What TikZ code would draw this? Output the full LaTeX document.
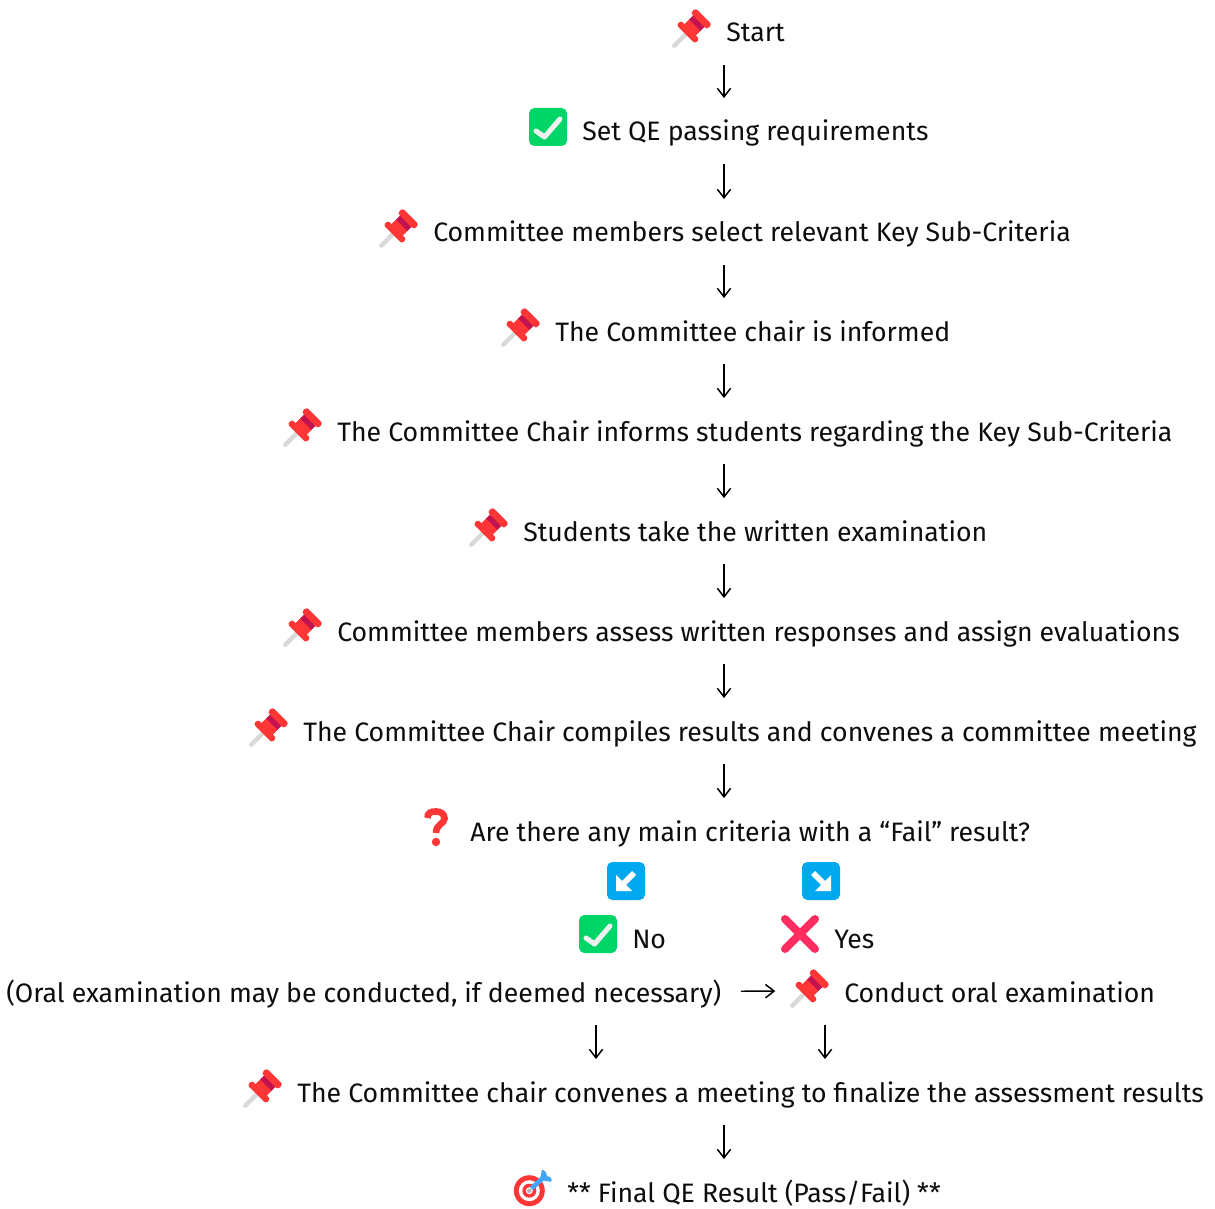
\documentclass[tikz,border=0pt]{standalone}
\usepackage{fontspec}
\setmainfont{Fira Sans}
\usetikzlibrary{arrows.meta}
\definecolor{pinred}{HTML}{FF3636}
\definecolor{pindark}{HTML}{C2124F}
\definecolor{pingray}{HTML}{D9D9D9}
\definecolor{okgreen}{HTML}{00D568}
\definecolor{dirblue}{HTML}{00A8F0}
\definecolor{crosspink}{HTML}{FF2D5F}
\definecolor{dartblue}{HTML}{42A5F5}
\tikzset{
  steptext/.style={anchor=base west, inner sep=0pt, text height=14pt, text depth=5pt, font=\fontsize{20pt}{24pt}\selectfont, text=black!95},
  flow/.style={line width=1.1pt, -{Straight Barb[length=6.5pt,width=10pt]}, shorten <=12pt, shorten >=18pt},
  pics/pin/.style={code={
    \begin{scope}[rotate=45]
      \draw[pingray, line width=3.4pt, line cap=round] (-25,0) -- (-9,0);
      \fill[pinred, rounded corners=2pt] (-9,-13) rectangle (-2.5,13);
      \fill[pinred] (-3.5,-8) rectangle (4.5,8);
      \fill[pindark] (4,-8) rectangle (10.5,8);
      \fill[pinred, rounded corners=2pt] (9.5,-11.5) rectangle (16.5,11.5);
    \end{scope}
  }},
  pics/okbox/.style={code={
    \fill[okgreen, rounded corners=4pt] (-19,-19) rectangle (19,19);
    \draw[white!94!black, line width=3.8pt, line cap=round, line join=round] (-12,4) -- (-3.5,10) -- (12,-8);
  }},
  pics/dirbox/.style={code={
    \fill[dirblue, rounded corners=4pt] (-19,-19) rectangle (19,19);
    \fill[white] (10,10) -- (10,-6) -- (4,0) -- (-6,-10) -- (-10,-6) -- (0,4) -- (-6,10) -- cycle;
  }},
  pics/nocross/.style={code={
    \draw[crosspink, line width=6pt, line cap=round] (-15,-15) -- (15,15) (-15,15) -- (15,-15);
  }},
  pics/askmark/.style={code={
    \draw[pinred, line width=5pt] (-8.5,-9) .. controls (-8.5,-14.5) and (-5,-15.5) .. (0,-15.5) .. controls (5,-15.5) and (8.5,-13) .. (8.5,-8.5) .. controls (8.5,-3) and (0,-3) .. (0,6);
    \fill[pinred] (0,15) circle (4.2);
  }},
  pics/target/.style={code={
    \fill[pinred] (-3.7,2.7) circle (15.5);
    \fill[white] (-3.7,2.7) circle (10.5);
    \fill[pinred] (-3.7,2.7) circle (7);
    \fill[white] (-3.7,2.7) circle (3.5);
    \draw[dartblue, line width=3.5pt] (-1.5,0.5) -- (12,-12);
    \fill[dartblue, rounded corners=1pt] (7,-8) -- (9,-19) -- (14,-15) -- (13,-12) -- (18,-11) -- (19,-6) -- cycle;
    \fill[gray!60] (-3.7,2.7) circle (2.2);
  }},
}
\begin{document}
\begin{tikzpicture}[
      x=0.75pt, y=-0.75pt % one unit is one pixel of the reference
  ]
  \useasboundingbox (0,0) rectangle (1215,1209);

  \coordinate (axis) at (724,0);
  \coordinate (nocol) at (596,0);
  \coordinate (yescol) at (825,0);

  % one text per row, its icon at the left of it
  \foreach \nm/\icn/\px/\py/\lbl in {
    start/pin/726/42/{Start},
    setqe/okbox/582/141/{Set QE passing requirements},
    select/pin/433/242/{Committee members select relevant Key Sub-Criteria},
    told/pin/555/341/{The Committee chair is informed},
    informs/pin/337/441/{The Committee Chair informs students regarding the Key Sub-Criteria},
    written/pin/523/541/{Students take the written examination},
    assess/pin/337/641/{Committee members assess written responses and assign evaluations},
    compile/pin/303/741/{The Committee Chair compiles results and convenes a committee meeting},
    anyfail/askmark/470/841/{Are there any main criteria with a “Fail” result?},
    no/okbox/632/948/{No},
    yes/nocross/834/948/{Yes},
    conduct/pin/844/1002/{Conduct oral examination},
    convene/pin/297/1102/{The Committee chair convenes a meeting to finalize the assessment results},
    final/target/567/1202/{** Final QE Result (Pass/Fail) **}
  }{
    \node[steptext] (\nm) at (\px,\py) {\lbl};
    \coordinate (\nm-icon) at ([shift={(-34,-14)}]\nm.base west);
    \pic at (\nm-icon) {\icn};
  }
  \node[steptext] (oral) at (6,1002) {(Oral examination may be conducted, if deemed necessary)};

  \pic[xscale=-1] at (626,881) {dirbox};
  \pic at (821,881) {dirbox};

  \foreach \from/\to in {start/setqe, setqe/select, select/told, told/informs, informs/written, written/assess, assess/compile, compile/anyfail, convene/final}{
    \draw[flow] (\from.south -| axis) -- (\to.north -| axis);
  }
  \draw[flow] (oral.south -| nocol) -- (convene.north -| nocol);
  \draw[flow] (conduct.south -| yescol) -- (convene.north -| yescol);
  \draw[flow, shorten <=14.5pt, shorten >=26pt] ([yshift=8pt]oral.base east) -- ([yshift=-2.2pt]conduct-icon);

\end{tikzpicture}
\end{document}
